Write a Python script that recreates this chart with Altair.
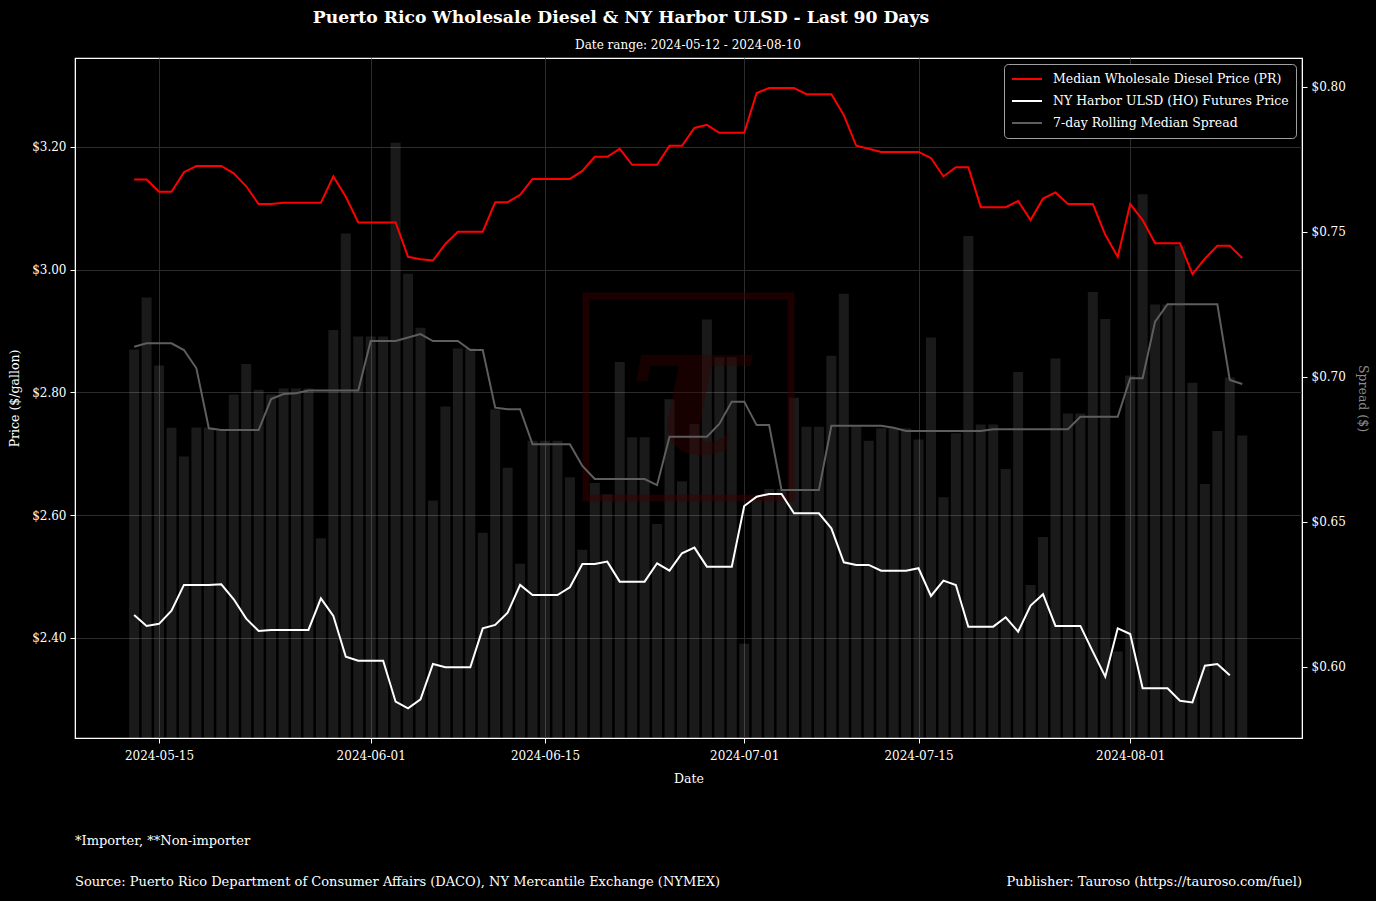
import altair as alt
import pandas as pd

FONT = "DejaVu Serif"

start_date = "2024-05-13"
n_days = 90

pr_price = [3.147, 3.147, 3.127, 3.127, 3.159, 3.169, 3.169, 3.169, 3.157, 3.136,
            3.107, 3.107, 3.109, 3.109, 3.109, 3.109, 3.152, 3.119, 3.077, 3.077,
            3.077, 3.077, 3.021, 3.017, 3.015, 3.042, 3.062, 3.062, 3.062, 3.110,
            3.110, 3.122, 3.148, 3.148, 3.148, 3.148, 3.161, 3.184, 3.184, 3.197,
            3.171, 3.171, 3.171, 3.202, 3.202, 3.231, 3.236, 3.223, 3.223, 3.223,
            3.288, 3.296, 3.296, 3.296, 3.286, 3.286, 3.286, 3.252, 3.202, 3.197,
            3.192, 3.192, 3.192, 3.192, 3.182, 3.152, 3.167, 3.167, 3.102, 3.102,
            3.102, 3.112, 3.081, 3.116, 3.126, 3.107, 3.107, 3.107, 3.057, 3.021,
            3.107, 3.081, 3.043, 3.043, 3.043, 2.993, 3.018, 3.039, 3.039, 3.019]

ho_price = [2.4375, 2.4196, 2.4230, 2.4445, 2.4864, 2.4864, 2.4864, 2.4875, 2.4630, 2.4315,
            2.4114, 2.4130, 2.4130, 2.4130, 2.4130, 2.4646, 2.4358, 2.3695, 2.3630, 2.3630,
            2.3630, 2.2962, 2.2854, 2.3000, 2.3576, 2.3522, 2.3522, 2.3522, 2.4157, 2.4212,
            2.4413, 2.4864, 2.4700, 2.4700, 2.4700, 2.4826, 2.5206, 2.5206, 2.5244, 2.4918,
            2.4918, 2.4918, 2.5217, 2.5097, 2.5380, 2.5472, 2.5162, 2.5162, 2.5162, 2.6150,
            2.6302, 2.6346, 2.6346, 2.6032, 2.6032, 2.6032, 2.5787, 2.5233, 2.5190, 2.5190,
            2.5097, 2.5097, 2.5097, 2.5136, 2.4684, 2.4935, 2.4864, 2.4184, 2.4184, 2.4184,
            2.4337, 2.4103, 2.4527, 2.4712, 2.4196, 2.4196, 2.4196, 2.3777, 2.3370, 2.4157,
            2.4065, 2.3180, 2.3180, 2.3180, 2.2977, 2.2950, 2.3549, 2.3576, 2.3392]

spread = [0.7095, 0.7274, 0.7040, 0.6825, 0.6726, 0.6826, 0.6826, 0.6815, 0.6940, 0.7045,
          0.6956, 0.6940, 0.6960, 0.6960, 0.6960, 0.6444, 0.7162, 0.7495, 0.7140, 0.7140,
          0.7140, 0.7808, 0.7356, 0.7170, 0.6574, 0.6898, 0.7098, 0.7098, 0.6463, 0.6888,
          0.6687, 0.6356, 0.6780, 0.6780, 0.6780, 0.6654, 0.6404, 0.6634, 0.6596, 0.7052,
          0.6792, 0.6792, 0.6493, 0.6923, 0.6640, 0.6838, 0.7198, 0.7068, 0.7068, 0.6080,
          0.6578, 0.6614, 0.6614, 0.6928, 0.6828, 0.6828, 0.7073, 0.7287, 0.6830, 0.6780,
          0.6823, 0.6823, 0.6823, 0.6784, 0.7136, 0.6585, 0.6806, 0.7486, 0.6836, 0.6836,
          0.6683, 0.7017, 0.6283, 0.6448, 0.7064, 0.6874, 0.6874, 0.7293, 0.7200, 0.6053,
          0.7005, 0.7630, 0.7250, 0.7250, 0.7453, 0.6980, 0.6631, 0.6814, 0.6998, 0.6798]

rolling_median = [0.7104, 0.7116, 0.7116, 0.7116, 0.7093, 0.7030, 0.6823, 0.6817, 0.6817, 0.6817,
                  0.6817, 0.6924, 0.6941, 0.6944, 0.6953, 0.6953, 0.6953, 0.6953, 0.6953, 0.7124,
                  0.7124, 0.7124, 0.7136, 0.7148, 0.7124, 0.7124, 0.7124, 0.7093, 0.7093, 0.6894,
                  0.6889, 0.6889, 0.6768, 0.6768, 0.6768, 0.6768, 0.6693, 0.6648, 0.6648, 0.6648,
                  0.6648, 0.6648, 0.6627, 0.6794, 0.6794, 0.6794, 0.6794, 0.6838, 0.6915, 0.6915,
                  0.6834, 0.6834, 0.6610, 0.6610, 0.6610, 0.6610, 0.6832, 0.6832, 0.6832, 0.6832,
                  0.6832, 0.6825, 0.6814, 0.6814, 0.6814, 0.6814, 0.6814, 0.6814, 0.6814, 0.6820,
                  0.6820, 0.6820, 0.6820, 0.6820, 0.6820, 0.6820, 0.6863, 0.6863, 0.6863, 0.6863,
                  0.6996, 0.6996, 0.7191, 0.7251, 0.7251, 0.7251, 0.7251, 0.7251, 0.6990, 0.6976]

series_names = ["Median Wholesale Diesel Price (PR)",
                "NY Harbor ULSD (HO) Futures Price",
                "7-day Rolling Median Spread"]
series_colors = ["#ff0000", "#ffffff", "#5e5e5e"]

price_ticks = [2.4, 2.6, 2.8, 3.0, 3.2]
spread_ticks = [0.60, 0.65, 0.70, 0.75, 0.80]

title_text = "Puerto Rico Wholesale Diesel & NY Harbor ULSD - Last 90 Days"
subtitle_text = "Date range: 2024-05-12 - 2024-08-10"
note_text = "*Importer, **Non-importer"
source_text = "Source: Puerto Rico Department of Consumer Affairs (DACO), NY Mercantile Exchange (NYMEX)"
publisher_text = "Publisher: Tauroso (https://tauroso.com/fuel)"

dates = pd.date_range(start_date, periods=n_days, freq="D")
df = pd.DataFrame({"date": dates, "spread": spread, "rolling": rolling_median})
df["series"] = series_names[2]

long_rows = []
for d, v in zip(dates, pr_price):
    long_rows.append({"date": d, "value": v, "series": series_names[0]})
for d, v in zip(dates, ho_price):
    long_rows.append({"date": d, "value": v, "series": series_names[1]})
df_long = pd.DataFrame(long_rows)

W, H = 1227, 680

x_enc = alt.X(
    "date:T",
    scale=alt.Scale(domain=[alt.DateTime(year=2024, month=5, date=8, hours=6),
                            alt.DateTime(year=2024, month=8, date=14, hours=19, minutes=12)],
                    padding=0),
    axis=alt.Axis(
        values=[alt.DateTime(year=2024, month=5, date=15),
                alt.DateTime(year=2024, month=6, date=1),
                alt.DateTime(year=2024, month=6, date=15),
                alt.DateTime(year=2024, month=7, date=1),
                alt.DateTime(year=2024, month=7, date=15),
                alt.DateTime(year=2024, month=8, date=1)],
        format="%Y-%m-%d", title="Date", grid=True, gridColor="#2c2c2c",
        labelPadding=7, titlePadding=11,
    ),
)

color_enc = alt.Color(
    "series:N",
    scale=alt.Scale(domain=series_names, range=series_colors),
    legend=alt.Legend(
        title=None, orient="top-right", offset=6, fillColor="black",
        strokeColor="#a0a0a0", cornerRadius=4, padding=7,
        symbolType="stroke", symbolSize=900, symbolStrokeWidth=2,
        labelColor="white", labelFont=FONT, labelFontSize=12.5, labelLimit=400,
        labelOffset=10, clipHeight=16, rowPadding=6,
    ),
)

spread_scale = alt.Scale(domain=[0.5755, 0.81], zero=False, nice=False)
price_scale = alt.Scale(domain=[2.237, 3.345], zero=False, nice=False)

bars = alt.Chart(df).mark_bar(width=10, color="white", opacity=0.1, clip=True).encode(
    x=x_enc,
    y=alt.Y("spread:Q", scale=spread_scale,
            axis=alt.Axis(orient="right", values=spread_ticks, format="$.2f",
                          title="Spread ($)", titleColor="#8c8c8c", grid=False,
                          labelPadding=4, titlePadding=10)),
)

wm = pd.DataFrame({"t": ["\u03c4"]})
wm_rect = alt.Chart(wm).mark_rect(fill=None, stroke="#3a0000", strokeWidth=7, opacity=0.5).encode(
    x=alt.value(511), x2=alt.value(716), y=alt.value(238), y2=alt.value(440)
)
wm_text = alt.Chart(wm).mark_text(font=FONT, fontSize=190, fontWeight="bold", fontStyle="italic",
                                  color="#3a0000", opacity=0.4, align="center",
                                  baseline="middle").encode(
    x=alt.value(614), y=alt.value(338), text="t:N"
)

rolling_line = alt.Chart(df).mark_line(strokeWidth=2, clip=True).encode(
    x=x_enc,
    y=alt.Y("rolling:Q", scale=spread_scale),
    color=color_enc,
)

right_group = alt.layer(bars, wm_rect, wm_text, rolling_line)

price_lines = alt.Chart(df_long).mark_line(strokeWidth=2, clip=True).encode(
    x=x_enc,
    y=alt.Y("value:Q", scale=price_scale,
            axis=alt.Axis(orient="left", values=price_ticks, format="$.2f",
                          title="Price ($/gallon)", grid=True, gridColor="#2c2c2c",
                          labelPadding=4, titlePadding=10)),
    color=color_enc,
)

left_group = alt.layer(price_lines)

title_mark = alt.Chart(pd.DataFrame({"t": [title_text]})).mark_text(
    font=FONT, fontSize=17.2, fontWeight="bold", color="white", align="center", baseline="middle"
).encode(x=alt.value(546), y=alt.value(-40), text="t:N")
subtitle_mark = alt.Chart(pd.DataFrame({"t": [subtitle_text]})).mark_text(
    font=FONT, fontSize=12, color="white", align="center", baseline="middle"
).encode(x=alt.value(613), y=alt.value(-13), text="t:N")
note_mark = alt.Chart(pd.DataFrame({"t": [note_text]})).mark_text(
    font=FONT, fontSize=13, color="white", align="left", baseline="middle"
).encode(x=alt.value(0), y=alt.value(783), text="t:N")
source_mark = alt.Chart(pd.DataFrame({"t": [source_text]})).mark_text(
    font=FONT, fontSize=13, color="white", align="left", baseline="middle"
).encode(x=alt.value(0), y=alt.value(824), text="t:N")
publisher_mark = alt.Chart(pd.DataFrame({"t": [publisher_text]})).mark_text(
    font=FONT, fontSize=13, color="white", align="right", baseline="middle"
).encode(x=alt.value(W), y=alt.value(824), text="t:N")

chart = alt.layer(
    right_group, left_group, title_mark, subtitle_mark, note_mark, source_mark, publisher_mark
).resolve_scale(
    y="independent"
).properties(
    width=W, height=H,
    autosize=alt.AutoSizeParams(type="none"),
    padding={"left": 75, "top": 58, "right": 74, "bottom": 163},
    background="black",
).configure_view(
    stroke="white", strokeWidth=1.2
).configure_axis(
    labelFont=FONT, labelFontSize=12, labelColor="white",
    titleFont=FONT, titleFontSize=12.5, titleColor="white", titleFontWeight="normal",
    tickColor="white", tickSize=5, domainColor="white", domainWidth=1,
)

chart.save("out.html", embed_options={"renderer": "svg", "actions": False})
